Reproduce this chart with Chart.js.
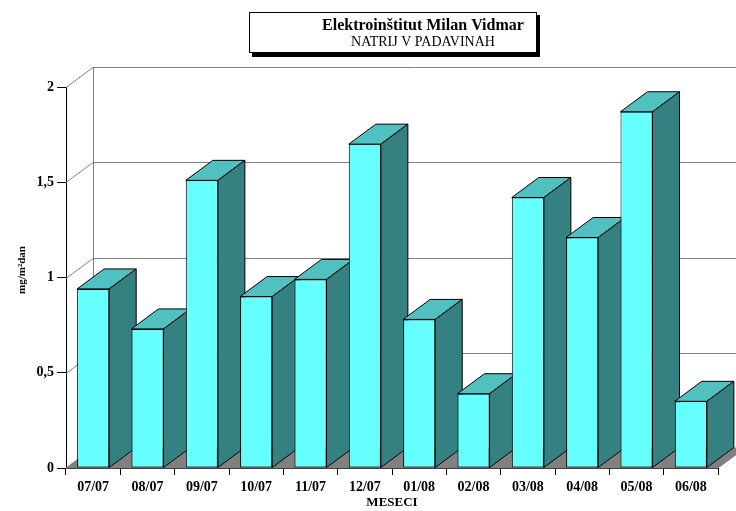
<!DOCTYPE html>
<html>
<head>
<meta charset="utf-8">
<script src="https://cdn.jsdelivr.net/npm/chart.js@4.4.0/dist/chart.umd.min.js"></script>
<style>
    html, body { margin: 0; padding: 0; background: #fff; }
    #wrap { width: 736px; height: 511px; position: relative; }
</style>
</head>
<body>
<div id="wrap"><canvas id="bar-chart"></canvas></div>
<script>
// data
var months = ["07/07", "08/07", "09/07", "10/07", "11/07", "12/07", "01/08", "02/08", "03/08", "04/08", "05/08", "06/08"];
var natrij = [0.94, 0.73, 1.51, 0.90, 0.99, 1.70, 0.78, 0.39, 1.42, 1.21, 1.87, 0.35];
var yTicks = [0, 0.5, 1, 1.5, 2];

var titleText = "Elektroinštitut Milan Vidmar";
var subtitleText = "NATRIJ V PADAVINAH";
var xTitle = "MESECI";
var yTitle = "mg/m²dan";

// depth of the fake 3D
var DX = 27, DY = -20;
var serif = "'Liberation Serif', 'Times New Roman', serif";

function poly(ctx, pts, fill) {
    ctx.beginPath();
    ctx.moveTo(pts[0][0], pts[0][1]);
    for (var i = 1; i < pts.length; i++) ctx.lineTo(pts[i][0], pts[i][1]);
    ctx.closePath();
    if (fill) { ctx.fillStyle = fill; ctx.fill(); }
    ctx.stroke();
}

var depthPlugin = {
    id: 'depth3d',
    beforeDatasetsDraw: function (chart) {
        var ctx = chart.ctx;
        var a = chart.chartArea;
        var y = chart.scales.y;
        ctx.save();
        ctx.lineWidth = 1;

        // floor
        ctx.strokeStyle = '#808080';
        poly(ctx, [[a.left, a.bottom], [a.right, a.bottom], [a.right + DX, a.bottom + DY], [a.left + DX, a.bottom + DY]], '#808080');

        // left wall + back wall grid
        ctx.strokeStyle = '#808080';
        ctx.beginPath();
        ctx.moveTo(a.left + DX + 0.5, y.getPixelForValue(2) + DY);
        ctx.lineTo(a.left + DX + 0.5, a.bottom + DY);
        ctx.stroke();
        yTicks.forEach(function (v) {
            var py = Math.round(y.getPixelForValue(v)) + 0.5;
            ctx.beginPath();
            ctx.moveTo(a.left, py);
            ctx.lineTo(a.left + DX, py + DY);
            ctx.lineTo(chart.width, py + DY);
            ctx.stroke();
        });

        // tops and sides of the bars, left to right
        ctx.strokeStyle = '#000';
        var meta = chart.getDatasetMeta(0);
        meta.data.forEach(function (bar) {
            var l = bar.x - bar.width / 2, r = bar.x + bar.width / 2;
            var t = bar.y, b = bar.base;
            poly(ctx, [[l, t], [r, t], [r + DX, t + DY], [l + DX, t + DY]], '#50C0C0');
            poly(ctx, [[r, t], [r + DX, t + DY], [r + DX, b + DY], [r, b]], '#358080');
        });
        ctx.restore();
    },
    afterDraw: function (chart) {
        var ctx = chart.ctx;
        var a = chart.chartArea;
        ctx.save();

        // title box with shadow
        ctx.fillStyle = '#000';
        ctx.fillRect(252, 15, 288, 42);
        ctx.fillStyle = '#fff';
        ctx.fillRect(249, 12, 288, 41);
        ctx.strokeStyle = '#000';
        ctx.lineWidth = 1;
        ctx.strokeRect(249.5, 12.5, 287, 40);

        ctx.fillStyle = '#000';
        ctx.textAlign = 'center';
        ctx.textBaseline = 'middle';
        ctx.font = 'bold 16px ' + serif;
        ctx.fillText(titleText, 423, 26);
        ctx.font = '14px ' + serif;
        ctx.fillText(subtitleText, 423, 42);

        // axis titles
        ctx.font = 'bold 13px ' + serif;
        ctx.fillText(xTitle, (a.left + a.right) / 2, 503);
        ctx.font = 'bold 11px ' + serif;
        ctx.translate(22, 270);
        ctx.rotate(-Math.PI / 2);
        ctx.fillText(yTitle, 0, 0);
        ctx.restore();
    }
};

new Chart(document.getElementById("bar-chart"), {
    type: 'bar',
    data: {
        labels: months,
        datasets: [{
            data: natrij,
            backgroundColor: '#66FFFF',
            borderColor: '#000',
            borderWidth: 1,
            borderSkipped: false,
            barPercentage: 0.59,
            categoryPercentage: 1
        }]
    },
    options: {
        responsive: true,
        maintainAspectRatio: false,
        animation: false,
        devicePixelRatio: 1,
        layout: { padding: { top: 87, right: 18, left: 0, bottom: 0 } },
        plugins: {
            legend: { display: false },
            tooltip: { enabled: false }
        },
        scales: {
            x: {
                afterFit: function (scale) { scale.height = 43; },
                grid: { drawOnChartArea: false, offset: true, tickLength: 7, color: '#000' },
                border: { color: '#000', width: 1 },
                ticks: { color: '#000', padding: 4, maxRotation: 0, font: { family: serif, size: 14, weight: 'bold' } }
            },
            y: {
                min: 0,
                max: 2,
                afterFit: function (scale) { scale.width = 66; },
                afterBuildTicks: function (scale) {
                    scale.ticks = yTicks.map(function (v) { return { value: v }; });
                },
                grid: { drawOnChartArea: false, tickLength: 9, color: '#000' },
                border: { color: '#000', width: 1 },
                ticks: {
                    color: '#000',
                    padding: 3,
                    font: { family: serif, size: 14, weight: 'bold' },
                    callback: function (v) { return String(v).replace('.', ','); }
                }
            }
        }
    },
    plugins: [depthPlugin]
});
</script>
</body>
</html>
